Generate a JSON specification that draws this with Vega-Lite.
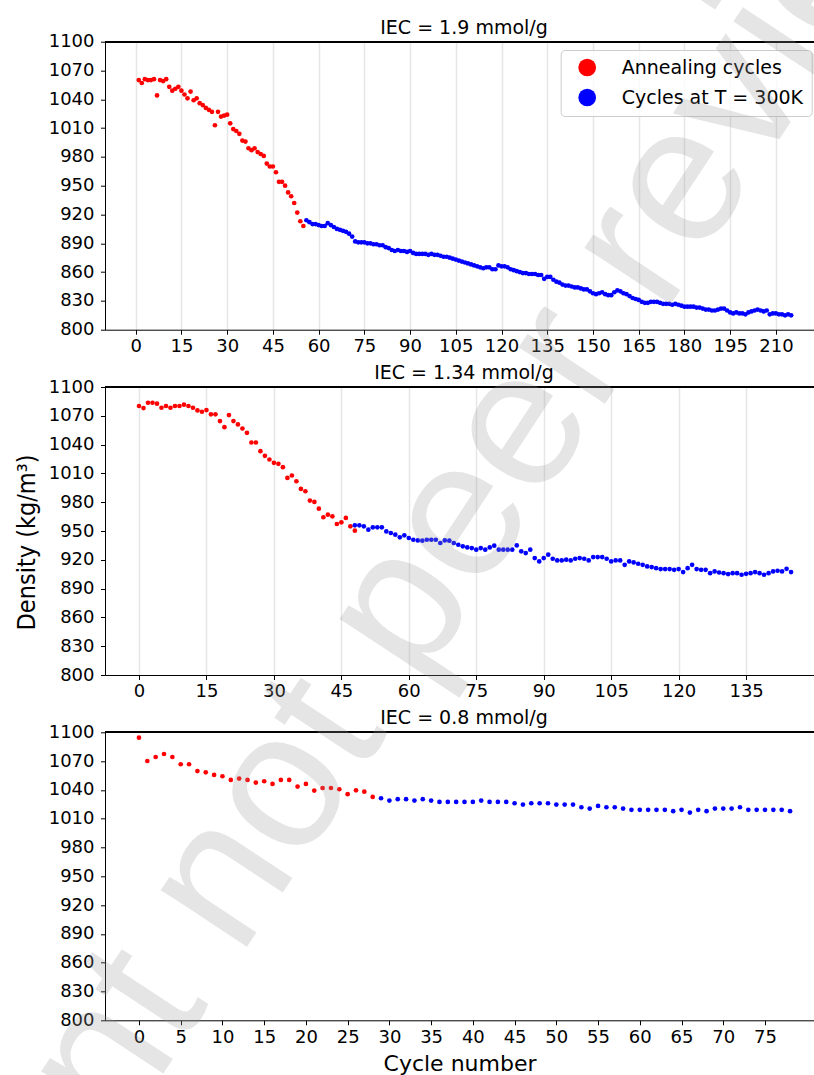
{
  "$schema": "https://vega.github.io/schema/vega-lite/v6.json",
  "autosize": {"type": "none"},
  "padding": {"left": 105, "top": 41.7, "right": 709, "bottom": 1033.3},
  "spacing": 57.3,
  "bounds": "flush",
  "resolve": {"scale": {"color": "independent"}},
  "config": {
    "font": "DejaVu Sans",
    "view": {"stroke": null},
    "axis": {"labelFontSize": 18, "labelColor": "#000", "labelFont": "DejaVu Sans", "domainColor": "#000", "domainWidth": 1, "tickColor": "#000", "tickWidth": 1, "tickSize": 4.5, "gridColor": "#e6e6e6", "gridWidth": 1.5, "titleColor": "#000", "titleFontWeight": "normal", "labelOverlap": false},
    "axisX": {"labelPadding": 3.4, "labelFlush": false},
    "axisY": {"labelPadding": 6.5},
    "title": {"fontSize": 19, "fontWeight": "normal", "color": "#000", "font": "DejaVu Sans", "baseline": "alphabetic", "offset": -5, "anchor": "middle", "frame": "group", "dx": 4.5}
  },
  "datasets": {
    "p1": [
      {"cycle":1,"density":1060,"series":"Annealing cycles"},{"cycle":2,"density":1057,"series":"Annealing cycles"},{"cycle":3,"density":1061,"series":"Annealing cycles"},{"cycle":4,"density":1060,"series":"Annealing cycles"},{"cycle":5,"density":1060,"series":"Annealing cycles"},{"cycle":6,"density":1061,"series":"Annealing cycles"},{"cycle":7,"density":1044,"series":"Annealing cycles"},{"cycle":8,"density":1060,"series":"Annealing cycles"},{"cycle":9,"density":1059,"series":"Annealing cycles"},{"cycle":10,"density":1061,"series":"Annealing cycles"},
      {"cycle":11,"density":1053,"series":"Annealing cycles"},{"cycle":12,"density":1049,"series":"Annealing cycles"},{"cycle":13,"density":1051,"series":"Annealing cycles"},{"cycle":14,"density":1053,"series":"Annealing cycles"},{"cycle":15,"density":1049,"series":"Annealing cycles"},{"cycle":16,"density":1045,"series":"Annealing cycles"},{"cycle":17,"density":1041,"series":"Annealing cycles"},{"cycle":18,"density":1048,"series":"Annealing cycles"},{"cycle":19,"density":1039,"series":"Annealing cycles"},{"cycle":20,"density":1041,"series":"Annealing cycles"},
      {"cycle":21,"density":1036,"series":"Annealing cycles"},{"cycle":22,"density":1034,"series":"Annealing cycles"},{"cycle":23,"density":1031,"series":"Annealing cycles"},{"cycle":24,"density":1029,"series":"Annealing cycles"},{"cycle":25,"density":1027,"series":"Annealing cycles"},{"cycle":26,"density":1013,"series":"Annealing cycles"},{"cycle":27,"density":1027,"series":"Annealing cycles"},{"cycle":28,"density":1022,"series":"Annealing cycles"},{"cycle":29,"density":1023,"series":"Annealing cycles"},{"cycle":30,"density":1024,"series":"Annealing cycles"},
      {"cycle":31,"density":1015,"series":"Annealing cycles"},{"cycle":32,"density":1009,"series":"Annealing cycles"},{"cycle":33,"density":1007,"series":"Annealing cycles"},{"cycle":34,"density":1004,"series":"Annealing cycles"},{"cycle":35,"density":997,"series":"Annealing cycles"},{"cycle":36,"density":996,"series":"Annealing cycles"},{"cycle":37,"density":989,"series":"Annealing cycles"},{"cycle":38,"density":987,"series":"Annealing cycles"},{"cycle":39,"density":989,"series":"Annealing cycles"},{"cycle":40,"density":985,"series":"Annealing cycles"},
      {"cycle":41,"density":983,"series":"Annealing cycles"},{"cycle":42,"density":981,"series":"Annealing cycles"},{"cycle":43,"density":973,"series":"Annealing cycles"},{"cycle":44,"density":970,"series":"Annealing cycles"},{"cycle":45,"density":970,"series":"Annealing cycles"},{"cycle":46,"density":964,"series":"Annealing cycles"},{"cycle":47,"density":954,"series":"Annealing cycles"},{"cycle":48,"density":954,"series":"Annealing cycles"},{"cycle":49,"density":950,"series":"Annealing cycles"},{"cycle":50,"density":943,"series":"Annealing cycles"},
      {"cycle":51,"density":939,"series":"Annealing cycles"},{"cycle":52,"density":932,"series":"Annealing cycles"},{"cycle":53,"density":922,"series":"Annealing cycles"},{"cycle":54,"density":913,"series":"Annealing cycles"},{"cycle":55,"density":908,"series":"Annealing cycles"},
      {"cycle":56,"density":914,"series":"Cycles at T = 300K"},{"cycle":57,"density":912,"series":"Cycles at T = 300K"},{"cycle":58,"density":910,"series":"Cycles at T = 300K"},{"cycle":59,"density":910,"series":"Cycles at T = 300K"},{"cycle":60,"density":909,"series":"Cycles at T = 300K"},
      {"cycle":61,"density":908,"series":"Cycles at T = 300K"},{"cycle":62,"density":908,"series":"Cycles at T = 300K"},{"cycle":63,"density":911,"series":"Cycles at T = 300K"},{"cycle":64,"density":909,"series":"Cycles at T = 300K"},{"cycle":65,"density":907,"series":"Cycles at T = 300K"},{"cycle":66,"density":905,"series":"Cycles at T = 300K"},{"cycle":67,"density":904,"series":"Cycles at T = 300K"},{"cycle":68,"density":903,"series":"Cycles at T = 300K"},{"cycle":69,"density":902,"series":"Cycles at T = 300K"},{"cycle":70,"density":900,"series":"Cycles at T = 300K"},
      {"cycle":71,"density":897,"series":"Cycles at T = 300K"},{"cycle":72,"density":892,"series":"Cycles at T = 300K"},{"cycle":73,"density":891,"series":"Cycles at T = 300K"},{"cycle":74,"density":891,"series":"Cycles at T = 300K"},{"cycle":75,"density":891,"series":"Cycles at T = 300K"},{"cycle":76,"density":890,"series":"Cycles at T = 300K"},{"cycle":77,"density":890,"series":"Cycles at T = 300K"},{"cycle":78,"density":889,"series":"Cycles at T = 300K"},{"cycle":79,"density":889,"series":"Cycles at T = 300K"},{"cycle":80,"density":888,"series":"Cycles at T = 300K"},
      {"cycle":81,"density":888,"series":"Cycles at T = 300K"},{"cycle":82,"density":886,"series":"Cycles at T = 300K"},{"cycle":83,"density":885,"series":"Cycles at T = 300K"},{"cycle":84,"density":883,"series":"Cycles at T = 300K"},{"cycle":85,"density":882,"series":"Cycles at T = 300K"},{"cycle":86,"density":883,"series":"Cycles at T = 300K"},{"cycle":87,"density":882,"series":"Cycles at T = 300K"},{"cycle":88,"density":882,"series":"Cycles at T = 300K"},{"cycle":89,"density":881,"series":"Cycles at T = 300K"},{"cycle":90,"density":882,"series":"Cycles at T = 300K"},
      {"cycle":91,"density":880,"series":"Cycles at T = 300K"},{"cycle":92,"density":879,"series":"Cycles at T = 300K"},{"cycle":93,"density":879,"series":"Cycles at T = 300K"},{"cycle":94,"density":879,"series":"Cycles at T = 300K"},{"cycle":95,"density":879,"series":"Cycles at T = 300K"},{"cycle":96,"density":878,"series":"Cycles at T = 300K"},{"cycle":97,"density":879,"series":"Cycles at T = 300K"},{"cycle":98,"density":878,"series":"Cycles at T = 300K"},{"cycle":99,"density":878,"series":"Cycles at T = 300K"},{"cycle":100,"density":877,"series":"Cycles at T = 300K"},
      {"cycle":101,"density":876,"series":"Cycles at T = 300K"},{"cycle":102,"density":876,"series":"Cycles at T = 300K"},{"cycle":103,"density":875,"series":"Cycles at T = 300K"},{"cycle":104,"density":874,"series":"Cycles at T = 300K"},{"cycle":105,"density":873,"series":"Cycles at T = 300K"},{"cycle":106,"density":872,"series":"Cycles at T = 300K"},{"cycle":107,"density":871,"series":"Cycles at T = 300K"},{"cycle":108,"density":870,"series":"Cycles at T = 300K"},{"cycle":109,"density":869,"series":"Cycles at T = 300K"},{"cycle":110,"density":868,"series":"Cycles at T = 300K"},
      {"cycle":111,"density":867,"series":"Cycles at T = 300K"},{"cycle":112,"density":866,"series":"Cycles at T = 300K"},{"cycle":113,"density":865,"series":"Cycles at T = 300K"},{"cycle":114,"density":864,"series":"Cycles at T = 300K"},{"cycle":115,"density":865,"series":"Cycles at T = 300K"},{"cycle":116,"density":865,"series":"Cycles at T = 300K"},{"cycle":117,"density":863,"series":"Cycles at T = 300K"},{"cycle":118,"density":863,"series":"Cycles at T = 300K"},{"cycle":119,"density":867,"series":"Cycles at T = 300K"},{"cycle":120,"density":866,"series":"Cycles at T = 300K"},
      {"cycle":121,"density":866,"series":"Cycles at T = 300K"},{"cycle":122,"density":865,"series":"Cycles at T = 300K"},{"cycle":123,"density":863,"series":"Cycles at T = 300K"},{"cycle":124,"density":862,"series":"Cycles at T = 300K"},{"cycle":125,"density":861,"series":"Cycles at T = 300K"},{"cycle":126,"density":860,"series":"Cycles at T = 300K"},{"cycle":127,"density":859,"series":"Cycles at T = 300K"},{"cycle":128,"density":859,"series":"Cycles at T = 300K"},{"cycle":129,"density":858,"series":"Cycles at T = 300K"},{"cycle":130,"density":858,"series":"Cycles at T = 300K"},
      {"cycle":131,"density":858,"series":"Cycles at T = 300K"},{"cycle":132,"density":857,"series":"Cycles at T = 300K"},{"cycle":133,"density":857,"series":"Cycles at T = 300K"},{"cycle":134,"density":853,"series":"Cycles at T = 300K"},{"cycle":135,"density":855,"series":"Cycles at T = 300K"},{"cycle":136,"density":855,"series":"Cycles at T = 300K"},{"cycle":137,"density":852,"series":"Cycles at T = 300K"},{"cycle":138,"density":850,"series":"Cycles at T = 300K"},{"cycle":139,"density":849,"series":"Cycles at T = 300K"},{"cycle":140,"density":847,"series":"Cycles at T = 300K"},
      {"cycle":141,"density":846,"series":"Cycles at T = 300K"},{"cycle":142,"density":846,"series":"Cycles at T = 300K"},{"cycle":143,"density":845,"series":"Cycles at T = 300K"},{"cycle":144,"density":844,"series":"Cycles at T = 300K"},{"cycle":145,"density":844,"series":"Cycles at T = 300K"},{"cycle":146,"density":843,"series":"Cycles at T = 300K"},{"cycle":147,"density":842,"series":"Cycles at T = 300K"},{"cycle":148,"density":842,"series":"Cycles at T = 300K"},{"cycle":149,"density":840,"series":"Cycles at T = 300K"},{"cycle":150,"density":838,"series":"Cycles at T = 300K"},
      {"cycle":151,"density":837,"series":"Cycles at T = 300K"},{"cycle":152,"density":838,"series":"Cycles at T = 300K"},{"cycle":153,"density":839,"series":"Cycles at T = 300K"},{"cycle":154,"density":837,"series":"Cycles at T = 300K"},{"cycle":155,"density":836,"series":"Cycles at T = 300K"},{"cycle":156,"density":836,"series":"Cycles at T = 300K"},{"cycle":157,"density":839,"series":"Cycles at T = 300K"},{"cycle":158,"density":841,"series":"Cycles at T = 300K"},{"cycle":159,"density":840,"series":"Cycles at T = 300K"},{"cycle":160,"density":838,"series":"Cycles at T = 300K"},
      {"cycle":161,"density":837,"series":"Cycles at T = 300K"},{"cycle":162,"density":835,"series":"Cycles at T = 300K"},{"cycle":163,"density":833,"series":"Cycles at T = 300K"},{"cycle":164,"density":832,"series":"Cycles at T = 300K"},{"cycle":165,"density":831,"series":"Cycles at T = 300K"},{"cycle":166,"density":829,"series":"Cycles at T = 300K"},{"cycle":167,"density":828,"series":"Cycles at T = 300K"},{"cycle":168,"density":828,"series":"Cycles at T = 300K"},{"cycle":169,"density":829,"series":"Cycles at T = 300K"},{"cycle":170,"density":829,"series":"Cycles at T = 300K"},
      {"cycle":171,"density":829,"series":"Cycles at T = 300K"},{"cycle":172,"density":828,"series":"Cycles at T = 300K"},{"cycle":173,"density":827,"series":"Cycles at T = 300K"},{"cycle":174,"density":827,"series":"Cycles at T = 300K"},{"cycle":175,"density":827,"series":"Cycles at T = 300K"},{"cycle":176,"density":826,"series":"Cycles at T = 300K"},{"cycle":177,"density":827,"series":"Cycles at T = 300K"},{"cycle":178,"density":826,"series":"Cycles at T = 300K"},{"cycle":179,"density":825,"series":"Cycles at T = 300K"},{"cycle":180,"density":824,"series":"Cycles at T = 300K"},
      {"cycle":181,"density":824,"series":"Cycles at T = 300K"},{"cycle":182,"density":824,"series":"Cycles at T = 300K"},{"cycle":183,"density":824,"series":"Cycles at T = 300K"},{"cycle":184,"density":823,"series":"Cycles at T = 300K"},{"cycle":185,"density":823,"series":"Cycles at T = 300K"},{"cycle":186,"density":822,"series":"Cycles at T = 300K"},{"cycle":187,"density":821,"series":"Cycles at T = 300K"},{"cycle":188,"density":821,"series":"Cycles at T = 300K"},{"cycle":189,"density":820,"series":"Cycles at T = 300K"},{"cycle":190,"density":820,"series":"Cycles at T = 300K"},
      {"cycle":191,"density":821,"series":"Cycles at T = 300K"},{"cycle":192,"density":822,"series":"Cycles at T = 300K"},{"cycle":193,"density":822,"series":"Cycles at T = 300K"},{"cycle":194,"density":820,"series":"Cycles at T = 300K"},{"cycle":195,"density":818,"series":"Cycles at T = 300K"},{"cycle":196,"density":817,"series":"Cycles at T = 300K"},{"cycle":197,"density":818,"series":"Cycles at T = 300K"},{"cycle":198,"density":817,"series":"Cycles at T = 300K"},{"cycle":199,"density":817,"series":"Cycles at T = 300K"},{"cycle":200,"density":816,"series":"Cycles at T = 300K"},
      {"cycle":201,"density":818,"series":"Cycles at T = 300K"},{"cycle":202,"density":819,"series":"Cycles at T = 300K"},{"cycle":203,"density":820,"series":"Cycles at T = 300K"},{"cycle":204,"density":821,"series":"Cycles at T = 300K"},{"cycle":205,"density":820,"series":"Cycles at T = 300K"},{"cycle":206,"density":819,"series":"Cycles at T = 300K"},{"cycle":207,"density":820,"series":"Cycles at T = 300K"},{"cycle":208,"density":816,"series":"Cycles at T = 300K"},{"cycle":209,"density":817,"series":"Cycles at T = 300K"},{"cycle":210,"density":817,"series":"Cycles at T = 300K"},
      {"cycle":211,"density":816,"series":"Cycles at T = 300K"},{"cycle":212,"density":816,"series":"Cycles at T = 300K"},{"cycle":213,"density":815,"series":"Cycles at T = 300K"},{"cycle":214,"density":816,"series":"Cycles at T = 300K"},{"cycle":215,"density":815,"series":"Cycles at T = 300K"}
    ],
    "p2": [
      {"cycle":0,"density":1080.2,"series":"Annealing cycles"},{"cycle":1,"density":1078,"series":"Annealing cycles"},{"cycle":2,"density":1083.6,"series":"Annealing cycles"},{"cycle":3,"density":1083.6,"series":"Annealing cycles"},{"cycle":4,"density":1082.6,"series":"Annealing cycles"},{"cycle":5,"density":1078.4,"series":"Annealing cycles"},{"cycle":6,"density":1080.2,"series":"Annealing cycles"},{"cycle":7,"density":1078.4,"series":"Annealing cycles"},{"cycle":8,"density":1080.2,"series":"Annealing cycles"},{"cycle":9,"density":1080.2,"series":"Annealing cycles"},
      {"cycle":10,"density":1081.6,"series":"Annealing cycles"},{"cycle":11,"density":1080.2,"series":"Annealing cycles"},{"cycle":12,"density":1078.4,"series":"Annealing cycles"},{"cycle":13,"density":1075.6,"series":"Annealing cycles"},{"cycle":14,"density":1074.2,"series":"Annealing cycles"},{"cycle":15,"density":1076,"series":"Annealing cycles"},{"cycle":16,"density":1071.5,"series":"Annealing cycles"},{"cycle":17,"density":1071.5,"series":"Annealing cycles"},{"cycle":18,"density":1064.5,"series":"Annealing cycles"},{"cycle":19,"density":1058.2,"series":"Annealing cycles"},
      {"cycle":20,"density":1070.8,"series":"Annealing cycles"},{"cycle":21,"density":1064.5,"series":"Annealing cycles"},{"cycle":22,"density":1061,"series":"Annealing cycles"},{"cycle":23,"density":1056.8,"series":"Annealing cycles"},{"cycle":24,"density":1052.3,"series":"Annealing cycles"},{"cycle":25,"density":1042.2,"series":"Annealing cycles"},{"cycle":26,"density":1042.2,"series":"Annealing cycles"},{"cycle":27,"density":1033.2,"series":"Annealing cycles"},{"cycle":28,"density":1028.3,"series":"Annealing cycles"},{"cycle":29,"density":1024.5,"series":"Annealing cycles"},
      {"cycle":30,"density":1021,"series":"Annealing cycles"},{"cycle":31,"density":1020,"series":"Annealing cycles"},{"cycle":32,"density":1016.5,"series":"Annealing cycles"},{"cycle":33,"density":1005.3,"series":"Annealing cycles"},{"cycle":34,"density":1007.8,"series":"Annealing cycles"},{"cycle":35,"density":1001.8,"series":"Annealing cycles"},{"cycle":36,"density":993.8,"series":"Annealing cycles"},{"cycle":37,"density":991.4,"series":"Annealing cycles"},{"cycle":38,"density":981.7,"series":"Annealing cycles"},{"cycle":39,"density":980.3,"series":"Annealing cycles"},
      {"cycle":40,"density":973.3,"series":"Annealing cycles"},{"cycle":41,"density":964.3,"series":"Annealing cycles"},{"cycle":42,"density":967,"series":"Annealing cycles"},{"cycle":43,"density":965.3,"series":"Annealing cycles"},{"cycle":44,"density":957.3,"series":"Annealing cycles"},{"cycle":45,"density":959,"series":"Annealing cycles"},{"cycle":46,"density":963.6,"series":"Annealing cycles"},{"cycle":47,"density":954.9,"series":"Annealing cycles"},{"cycle":48,"density":950.3,"series":"Annealing cycles"},
      {"cycle":48,"density":955.9,"series":"Cycles at T = 300K"},{"cycle":49,"density":955.9,"series":"Cycles at T = 300K"},{"cycle":50,"density":954.9,"series":"Cycles at T = 300K"},{"cycle":51,"density":951.4,"series":"Cycles at T = 300K"},{"cycle":52,"density":953.8,"series":"Cycles at T = 300K"},{"cycle":53,"density":953.8,"series":"Cycles at T = 300K"},{"cycle":54,"density":953.8,"series":"Cycles at T = 300K"},{"cycle":55,"density":949.6,"series":"Cycles at T = 300K"},{"cycle":56,"density":947.9,"series":"Cycles at T = 300K"},{"cycle":57,"density":946.2,"series":"Cycles at T = 300K"},
      {"cycle":58,"density":943.4,"series":"Cycles at T = 300K"},{"cycle":59,"density":945.5,"series":"Cycles at T = 300K"},{"cycle":60,"density":942.7,"series":"Cycles at T = 300K"},{"cycle":61,"density":940.9,"series":"Cycles at T = 300K"},{"cycle":62,"density":940.2,"series":"Cycles at T = 300K"},{"cycle":63,"density":939.9,"series":"Cycles at T = 300K"},{"cycle":64,"density":940.9,"series":"Cycles at T = 300K"},{"cycle":65,"density":940.9,"series":"Cycles at T = 300K"},{"cycle":66,"density":940.9,"series":"Cycles at T = 300K"},{"cycle":67,"density":937.5,"series":"Cycles at T = 300K"},
      {"cycle":68,"density":940.2,"series":"Cycles at T = 300K"},{"cycle":69,"density":939.9,"series":"Cycles at T = 300K"},{"cycle":70,"density":937.5,"series":"Cycles at T = 300K"},{"cycle":71,"density":935.7,"series":"Cycles at T = 300K"},{"cycle":72,"density":934,"series":"Cycles at T = 300K"},{"cycle":73,"density":932.9,"series":"Cycles at T = 300K"},{"cycle":74,"density":932.2,"series":"Cycles at T = 300K"},{"cycle":75,"density":930.5,"series":"Cycles at T = 300K"},{"cycle":76,"density":932.2,"series":"Cycles at T = 300K"},{"cycle":77,"density":930.5,"series":"Cycles at T = 300K"},
      {"cycle":78,"density":932.9,"series":"Cycles at T = 300K"},{"cycle":79,"density":934.7,"series":"Cycles at T = 300K"},{"cycle":80,"density":930.5,"series":"Cycles at T = 300K"},{"cycle":81,"density":930.5,"series":"Cycles at T = 300K"},{"cycle":82,"density":930.5,"series":"Cycles at T = 300K"},{"cycle":83,"density":930.5,"series":"Cycles at T = 300K"},{"cycle":84,"density":935,"series":"Cycles at T = 300K"},{"cycle":85,"density":928.8,"series":"Cycles at T = 300K"},{"cycle":86,"density":927,"series":"Cycles at T = 300K"},{"cycle":87,"density":930.5,"series":"Cycles at T = 300K"},
      {"cycle":88,"density":921.8,"series":"Cycles at T = 300K"},{"cycle":89,"density":918.3,"series":"Cycles at T = 300K"},{"cycle":90,"density":921.8,"series":"Cycles at T = 300K"},{"cycle":91,"density":925.3,"series":"Cycles at T = 300K"},{"cycle":92,"density":921.1,"series":"Cycles at T = 300K"},{"cycle":93,"density":919.4,"series":"Cycles at T = 300K"},{"cycle":94,"density":919.4,"series":"Cycles at T = 300K"},{"cycle":95,"density":920.1,"series":"Cycles at T = 300K"},{"cycle":96,"density":919.4,"series":"Cycles at T = 300K"},{"cycle":97,"density":921.1,"series":"Cycles at T = 300K"},
      {"cycle":98,"density":921.8,"series":"Cycles at T = 300K"},{"cycle":99,"density":921.1,"series":"Cycles at T = 300K"},{"cycle":100,"density":919.4,"series":"Cycles at T = 300K"},{"cycle":101,"density":922.8,"series":"Cycles at T = 300K"},{"cycle":102,"density":922.8,"series":"Cycles at T = 300K"},{"cycle":103,"density":922.8,"series":"Cycles at T = 300K"},{"cycle":104,"density":921.1,"series":"Cycles at T = 300K"},{"cycle":105,"density":918.3,"series":"Cycles at T = 300K"},{"cycle":106,"density":919.4,"series":"Cycles at T = 300K"},{"cycle":107,"density":919.4,"series":"Cycles at T = 300K"},
      {"cycle":108,"density":914.8,"series":"Cycles at T = 300K"},{"cycle":109,"density":918.3,"series":"Cycles at T = 300K"},{"cycle":110,"density":917.3,"series":"Cycles at T = 300K"},{"cycle":111,"density":915.9,"series":"Cycles at T = 300K"},{"cycle":112,"density":914.8,"series":"Cycles at T = 300K"},{"cycle":113,"density":913.1,"series":"Cycles at T = 300K"},{"cycle":114,"density":912.4,"series":"Cycles at T = 300K"},{"cycle":115,"density":911.3,"series":"Cycles at T = 300K"},{"cycle":116,"density":910.3,"series":"Cycles at T = 300K"},{"cycle":117,"density":910.3,"series":"Cycles at T = 300K"},
      {"cycle":118,"density":910.3,"series":"Cycles at T = 300K"},{"cycle":119,"density":909.6,"series":"Cycles at T = 300K"},{"cycle":120,"density":910.3,"series":"Cycles at T = 300K"},{"cycle":121,"density":907.2,"series":"Cycles at T = 300K"},{"cycle":122,"density":911.3,"series":"Cycles at T = 300K"},{"cycle":123,"density":914.8,"series":"Cycles at T = 300K"},{"cycle":124,"density":910.3,"series":"Cycles at T = 300K"},{"cycle":125,"density":909.6,"series":"Cycles at T = 300K"},{"cycle":126,"density":909.6,"series":"Cycles at T = 300K"},{"cycle":127,"density":906.1,"series":"Cycles at T = 300K"},
      {"cycle":128,"density":907.9,"series":"Cycles at T = 300K"},{"cycle":129,"density":906.8,"series":"Cycles at T = 300K"},{"cycle":130,"density":906.1,"series":"Cycles at T = 300K"},{"cycle":131,"density":905.1,"series":"Cycles at T = 300K"},{"cycle":132,"density":906.1,"series":"Cycles at T = 300K"},{"cycle":133,"density":906.1,"series":"Cycles at T = 300K"},{"cycle":134,"density":904.4,"series":"Cycles at T = 300K"},{"cycle":135,"density":905.4,"series":"Cycles at T = 300K"},{"cycle":136,"density":906.1,"series":"Cycles at T = 300K"},{"cycle":137,"density":907.2,"series":"Cycles at T = 300K"},
      {"cycle":138,"density":906.1,"series":"Cycles at T = 300K"},{"cycle":139,"density":904.4,"series":"Cycles at T = 300K"},{"cycle":140,"density":906.1,"series":"Cycles at T = 300K"},{"cycle":141,"density":907.9,"series":"Cycles at T = 300K"},{"cycle":142,"density":908.6,"series":"Cycles at T = 300K"},{"cycle":143,"density":907.9,"series":"Cycles at T = 300K"},{"cycle":144,"density":910.6,"series":"Cycles at T = 300K"},{"cycle":145,"density":907.2,"series":"Cycles at T = 300K"}
    ],
    "p3": [
      {"cycle":0,"density":1094.4,"series":"Annealing cycles"},{"cycle":1,"density":1070.1,"series":"Annealing cycles"},{"cycle":2,"density":1074.3,"series":"Annealing cycles"},{"cycle":3,"density":1077.4,"series":"Annealing cycles"},{"cycle":4,"density":1074.3,"series":"Annealing cycles"},{"cycle":5,"density":1066.7,"series":"Annealing cycles"},{"cycle":6,"density":1066.7,"series":"Annealing cycles"},{"cycle":7,"density":1059.6,"series":"Annealing cycles"},{"cycle":8,"density":1058.3,"series":"Annealing cycles"},{"cycle":9,"density":1055.6,"series":"Annealing cycles"},
      {"cycle":10,"density":1054.2,"series":"Annealing cycles"},{"cycle":11,"density":1050.4,"series":"Annealing cycles"},{"cycle":12,"density":1051.8,"series":"Annealing cycles"},{"cycle":13,"density":1050.4,"series":"Annealing cycles"},{"cycle":14,"density":1047.6,"series":"Annealing cycles"},{"cycle":15,"density":1049,"series":"Annealing cycles"},{"cycle":16,"density":1046.2,"series":"Annealing cycles"},{"cycle":17,"density":1050.4,"series":"Annealing cycles"},{"cycle":18,"density":1050.4,"series":"Annealing cycles"},{"cycle":19,"density":1043.5,"series":"Annealing cycles"},
      {"cycle":20,"density":1046.2,"series":"Annealing cycles"},{"cycle":21,"density":1039.3,"series":"Annealing cycles"},{"cycle":22,"density":1042,"series":"Annealing cycles"},{"cycle":23,"density":1042,"series":"Annealing cycles"},{"cycle":24,"density":1040.7,"series":"Annealing cycles"},{"cycle":25,"density":1035.5,"series":"Annealing cycles"},{"cycle":26,"density":1039.6,"series":"Annealing cycles"},{"cycle":27,"density":1038.2,"series":"Annealing cycles"},{"cycle":28,"density":1032.7,"series":"Annealing cycles"},
      {"cycle":29,"density":1031.3,"series":"Cycles at T = 300K"},{"cycle":30,"density":1028.9,"series":"Cycles at T = 300K"},{"cycle":31,"density":1030.3,"series":"Cycles at T = 300K"},{"cycle":32,"density":1030.3,"series":"Cycles at T = 300K"},{"cycle":33,"density":1028.9,"series":"Cycles at T = 300K"},{"cycle":34,"density":1030.3,"series":"Cycles at T = 300K"},{"cycle":35,"density":1028.9,"series":"Cycles at T = 300K"},{"cycle":36,"density":1027.5,"series":"Cycles at T = 300K"},{"cycle":37,"density":1027.5,"series":"Cycles at T = 300K"},{"cycle":38,"density":1027.5,"series":"Cycles at T = 300K"},
      {"cycle":39,"density":1027.5,"series":"Cycles at T = 300K"},{"cycle":40,"density":1027.5,"series":"Cycles at T = 300K"},{"cycle":41,"density":1028.9,"series":"Cycles at T = 300K"},{"cycle":42,"density":1027.5,"series":"Cycles at T = 300K"},{"cycle":43,"density":1027.5,"series":"Cycles at T = 300K"},{"cycle":44,"density":1027.5,"series":"Cycles at T = 300K"},{"cycle":45,"density":1026.1,"series":"Cycles at T = 300K"},{"cycle":46,"density":1024.7,"series":"Cycles at T = 300K"},{"cycle":47,"density":1026.1,"series":"Cycles at T = 300K"},{"cycle":48,"density":1026.1,"series":"Cycles at T = 300K"},
      {"cycle":49,"density":1026.1,"series":"Cycles at T = 300K"},{"cycle":50,"density":1024.7,"series":"Cycles at T = 300K"},{"cycle":51,"density":1024.7,"series":"Cycles at T = 300K"},{"cycle":52,"density":1024.7,"series":"Cycles at T = 300K"},{"cycle":53,"density":1021.9,"series":"Cycles at T = 300K"},{"cycle":54,"density":1020.5,"series":"Cycles at T = 300K"},{"cycle":55,"density":1023.3,"series":"Cycles at T = 300K"},{"cycle":56,"density":1021.9,"series":"Cycles at T = 300K"},{"cycle":57,"density":1021.9,"series":"Cycles at T = 300K"},{"cycle":58,"density":1020.5,"series":"Cycles at T = 300K"},
      {"cycle":59,"density":1019.2,"series":"Cycles at T = 300K"},{"cycle":60,"density":1019.2,"series":"Cycles at T = 300K"},{"cycle":61,"density":1019.2,"series":"Cycles at T = 300K"},{"cycle":62,"density":1019.2,"series":"Cycles at T = 300K"},{"cycle":63,"density":1019.2,"series":"Cycles at T = 300K"},{"cycle":64,"density":1017.8,"series":"Cycles at T = 300K"},{"cycle":65,"density":1019.2,"series":"Cycles at T = 300K"},{"cycle":66,"density":1016.4,"series":"Cycles at T = 300K"},{"cycle":67,"density":1019.2,"series":"Cycles at T = 300K"},{"cycle":68,"density":1017.8,"series":"Cycles at T = 300K"},
      {"cycle":69,"density":1020.5,"series":"Cycles at T = 300K"},{"cycle":70,"density":1020.5,"series":"Cycles at T = 300K"},{"cycle":71,"density":1020.5,"series":"Cycles at T = 300K"},{"cycle":72,"density":1021.9,"series":"Cycles at T = 300K"},{"cycle":73,"density":1019.2,"series":"Cycles at T = 300K"},{"cycle":74,"density":1019.2,"series":"Cycles at T = 300K"},{"cycle":75,"density":1019.2,"series":"Cycles at T = 300K"},{"cycle":76,"density":1019.2,"series":"Cycles at T = 300K"},{"cycle":77,"density":1019.2,"series":"Cycles at T = 300K"},{"cycle":78,"density":1017.8,"series":"Cycles at T = 300K"}
    ],
    "p3title": [
      {"title": "IEC = 0.8 mmol/g"}
    ],
    "watermark": [
      {"cycle": 32.95, "density": 1252.2, "text": "Preprint not peer reviewed"}
    ]
  },
  "vconcat": [
    {
      "width": 709, "height": 288,
      "title": "IEC = 1.9 mmol/g",
      "data": {"name": "p1"},
      "layer": [
        {"mark": {"type": "rule", "color": "#000", "strokeWidth": 1},
         "encoding": {"y": {"datum": 1100, "type": "quantitative", "scale": {"domain": [800, 1100], "nice": false, "zero": false}, "axis": {"values": [800,830,860,890,920,950,980,1010,1040,1070,1100], "format": "d", "title": null}}}},
        {"mark": {"type": "point", "filled": true, "size": 22, "opacity": 1},
         "encoding": {
           "x": {"field": "cycle", "type": "quantitative", "scale": {"domain": [-10.07, 222.5], "nice": false, "zero": false}, "axis": {"values": [0,15,30,45,60,75,90,105,120,135,150,165,180,195,210], "format": "d", "title": null}},
           "y": {"field": "density", "type": "quantitative", "scale": {"domain": [800, 1100], "nice": false, "zero": false}, "axis": {"values": [800,830,860,890,920,950,980,1010,1040,1070,1100], "format": "d", "title": null}},
           "color": {"field": "series", "type": "nominal", "scale": {"domain": ["Annealing cycles", "Cycles at T = 300K"], "range": ["#ff0000", "#0000ff"]},
             "legend": {"orient": "none", "legendX": 455.7, "legendY": 8.3, "title": null, "symbolType": "circle", "symbolSize": 314, "symbolStrokeWidth": 0, "symbolOpacity": 1, "labelFontSize": 19, "labelFont": "DejaVu Sans", "labelColor": "#000", "labelLimit": 300, "labelOffset": 25, "padding": 8, "symbolOffset": 9, "rowPadding": 10, "strokeColor": "#cccccc", "cornerRadius": 4, "fillColor": "rgba(255,255,255,0.8)"}}
         }}
      ]
    },
    {
      "width": 709, "height": 288,
      "title": "IEC = 1.34 mmol/g",
      "data": {"name": "p2"},
      "layer": [
        {"mark": {"type": "rule", "color": "#000", "strokeWidth": 1},
         "encoding": {"y": {"datum": 1100, "type": "quantitative", "scale": {"domain": [800, 1100], "nice": false, "zero": false}, "axis": {"values": [800,830,860,890,920,950,980,1010,1040,1070,1100], "format": "d", "title": "Density (kg/m³)", "titleFont": "DejaVu Sans Condensed, DejaVu Sans", "titleFontSize": 25, "titleX": -66, "titleY": 155, "titleAngle": 270, "titleBaseline": "bottom", "titleAlign": "center"}}}},
        {"mark": {"type": "point", "filled": true, "size": 22, "opacity": 1},
         "encoding": {
           "x": {"field": "cycle", "type": "quantitative", "scale": {"domain": [-7.56, 150.1], "nice": false, "zero": false}, "axis": {"values": [0,15,30,45,60,75,90,105,120,135], "format": "d", "title": null}},
           "y": {"field": "density", "type": "quantitative", "scale": {"domain": [800, 1100], "nice": false, "zero": false}, "axis": {"values": [800,830,860,890,920,950,980,1010,1040,1070,1100], "format": "d", "title": "Density (kg/m³)", "titleFont": "DejaVu Sans Condensed, DejaVu Sans", "titleFontSize": 25, "titleX": -66, "titleY": 155, "titleAngle": 270, "titleBaseline": "bottom", "titleAlign": "center"}},
           "color": {"field": "series", "type": "nominal", "scale": {"domain": ["Annealing cycles", "Cycles at T = 300K"], "range": ["#ff0000", "#0000ff"]}, "legend": null}
         }}
      ]
    },
    {
      "width": 709, "height": 288,
      "data": {"name": "p3"},
      "layer": [
        {"mark": {"type": "rule", "color": "#000", "strokeWidth": 1},
         "encoding": {"y": {"datum": 1100, "type": "quantitative", "scale": {"domain": [800, 1100], "nice": false, "zero": false}, "axis": {"values": [800,830,860,890,920,950,980,1010,1040,1070,1100], "format": "d", "title": null}}}},
        {"data": {"name": "p3title"},
         "mark": {"type": "text", "font": "DejaVu Sans", "fontSize": 19, "color": "#000", "align": "center", "baseline": "alphabetic", "dx": 4.5, "dy": -8.3},
         "encoding": {
           "x": {"datum": 38.4, "type": "quantitative", "scale": {"domain": [-4.07, 80.87], "nice": false, "zero": false}, "axis": {"values": [0,5,10,15,20,25,30,35,40,45,50,55,60,65,70,75], "format": "d", "title": "Cycle number", "titleFontSize": 22, "titlePadding": 7.5}},
           "y": {"datum": 1100, "type": "quantitative", "scale": {"domain": [800, 1100], "nice": false, "zero": false}, "axis": {"values": [800,830,860,890,920,950,980,1010,1040,1070,1100], "format": "d", "title": null}},
           "text": {"field": "title"}
         }},
        {"mark": {"type": "point", "filled": true, "size": 22, "opacity": 1},
         "encoding": {
           "x": {"field": "cycle", "type": "quantitative", "scale": {"domain": [-4.07, 80.87], "nice": false, "zero": false}, "axis": {"values": [0,5,10,15,20,25,30,35,40,45,50,55,60,65,70,75], "format": "d", "title": "Cycle number", "titleFontSize": 22, "titlePadding": 7.5}},
           "y": {"field": "density", "type": "quantitative", "scale": {"domain": [800, 1100], "nice": false, "zero": false}, "axis": {"values": [800,830,860,890,920,950,980,1010,1040,1070,1100], "format": "d", "title": null}},
           "color": {"field": "series", "type": "nominal", "scale": {"domain": ["Annealing cycles", "Cycles at T = 300K"], "range": ["#ff0000", "#0000ff"]}, "legend": null}
         }},
        {"data": {"name": "watermark"},
         "mark": {"type": "text", "font": "Liberation Sans", "fontSize": 195, "angle": 303.4, "align": "center", "baseline": "middle", "color": "#999999", "opacity": 0.25},
         "encoding": {
           "x": {"field": "cycle", "type": "quantitative", "scale": {"domain": [-4.07, 80.87], "nice": false, "zero": false}, "axis": {"values": [0,5,10,15,20,25,30,35,40,45,50,55,60,65,70,75], "format": "d", "title": "Cycle number", "titleFontSize": 22, "titlePadding": 7.5}},
           "y": {"field": "density", "type": "quantitative", "scale": {"domain": [800, 1100], "nice": false, "zero": false}, "axis": {"values": [800,830,860,890,920,950,980,1010,1040,1070,1100], "format": "d", "title": null}},
           "text": {"field": "text"}
         }}
      ]
    }
  ]
}
